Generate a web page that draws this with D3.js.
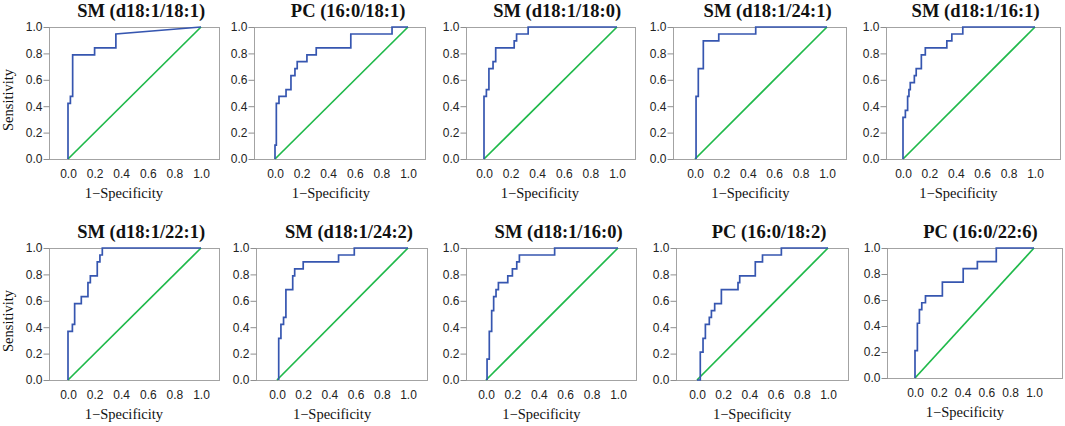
<!DOCTYPE html>
<html>
<head>
<meta charset="utf-8">
<script src="https://cdn.jsdelivr.net/npm/d3@7/dist/d3.min.js"></script>
<style>
  body { margin: 0; background: #fff; }
  svg { display: block; }
  .tick text { font-family: "Liberation Sans", Arial, sans-serif; font-size: 12px; fill: #222; }
  .title { font-family: "Liberation Serif", "Times New Roman", serif; font-weight: bold; font-size: 18.5px; fill: #111; text-anchor: middle; }
  .axis-label { font-family: "Liberation Serif", "Times New Roman", serif; font-size: 14.5px; fill: #111; text-anchor: middle; }
</style>
</head>
<body>
<svg id="chart" width="1065" height="426"></svg>
<script>
// DATA: panel titles, tick values and ROC points [1-specificity, sensitivity]
const titles = [
  "SM (d18:1/18:1)", "PC (16:0/18:1)", "SM (d18:1/18:0)", "SM (d18:1/24:1)", "SM (d18:1/16:1)",
  "SM (d18:1/22:1)", "SM (d18:1/24:2)", "SM (d18:1/16:0)", "PC (16:0/18:2)", "PC (16:0/22:6)"
];
const xTicks = [0, 0.2, 0.4, 0.6, 0.8, 1.0];
const yTicks = [0, 0.2, 0.4, 0.6, 0.8, 1.0];
const diagonal = [[0, 0], [1, 1]];

const rocSM18_1_18_1 = [[0,0],[0,0.421],[0.018,0.421],[0.018,0.474],[0.035,0.474],[0.035,0.789],
  [0.2,0.789],[0.2,0.842],[0.36,0.842],[0.36,0.947],[1,1]];
const rocPC16_0_18_1 = [[0,0],[0,0.105],[0.01,0.105],[0.01,0.421],[0.03,0.421],[0.03,0.474],
  [0.083,0.474],[0.083,0.526],[0.12,0.526],[0.12,0.632],[0.15,0.632],[0.15,0.684],[0.167,0.684],
  [0.167,0.737],[0.24,0.737],[0.24,0.789],[0.31,0.789],[0.31,0.842],[0.57,0.842],[0.57,0.947],
  [0.88,0.947],[0.88,1],[1,1]];
const rocSM18_1_18_0 = [[0,0],[0,0.474],[0.018,0.474],[0.018,0.526],[0.037,0.526],[0.037,0.684],
  [0.068,0.684],[0.068,0.737],[0.088,0.737],[0.088,0.842],[0.227,0.842],[0.227,0.895],
  [0.245,0.895],[0.245,0.947],[0.332,0.947],[0.332,1],[1,1]];
const rocSM18_1_24_1 = [[0.008,0],[0.008,0.474],[0.025,0.474],[0.025,0.684],[0.063,0.684],
  [0.063,0.895],[0.18,0.895],[0.18,0.947],[0.46,0.947],[0.46,1],[1,1]];
const rocSM18_1_16_1 = [[0,0],[0,0.316],[0.018,0.316],[0.018,0.368],[0.035,0.368],[0.035,0.474],
  [0.045,0.474],[0.045,0.526],[0.055,0.526],[0.055,0.579],[0.086,0.579],[0.086,0.632],
  [0.1,0.632],[0.1,0.684],[0.139,0.684],[0.139,0.789],[0.169,0.789],[0.169,0.842],[0.332,0.842],
  [0.332,0.895],[0.37,0.895],[0.37,0.947],[0.453,0.947],[0.453,1],[1,1]];
const rocSM18_1_22_1 = [[0,0],[0,0.368],[0.033,0.368],[0.033,0.421],[0.05,0.421],[0.05,0.579],
  [0.1,0.579],[0.1,0.632],[0.15,0.632],[0.15,0.737],[0.168,0.737],[0.168,0.789],[0.22,0.789],
  [0.22,0.895],[0.24,0.895],[0.24,0.947],[0.258,0.947],[0.258,1],[1,1]];
const rocSM18_1_24_2 = [[0.013,0],[0.013,0.316],[0.03,0.316],[0.03,0.421],[0.05,0.421],[0.05,0.474],
  [0.068,0.474],[0.068,0.684],[0.12,0.684],[0.12,0.789],[0.135,0.789],[0.135,0.842],[0.2,0.842],
  [0.2,0.895],[0.47,0.895],[0.47,0.947],[0.59,0.947],[0.59,1],[1,1]];
const rocSM18_1_16_0 = [[0.008,0],[0.008,0.158],[0.025,0.158],[0.025,0.368],[0.043,0.368],
  [0.043,0.526],[0.058,0.526],[0.058,0.632],[0.076,0.632],[0.076,0.684],[0.094,0.684],
  [0.094,0.737],[0.165,0.737],[0.165,0.789],[0.2,0.789],[0.2,0.842],[0.233,0.842],[0.233,0.895],
  [0.253,0.895],[0.253,0.947],[0.52,0.947],[0.52,1],[1,1]];
const rocPC16_0_18_2 = [[0,0],[0.025,0],[0.025,0.211],[0.046,0.211],[0.046,0.316],[0.064,0.316],
  [0.064,0.421],[0.094,0.421],[0.094,0.474],[0.11,0.474],[0.11,0.526],[0.135,0.526],[0.135,0.579],
  [0.186,0.579],[0.186,0.684],[0.313,0.684],[0.313,0.737],[0.326,0.737],[0.326,0.789],
  [0.445,0.789],[0.445,0.895],[0.5,0.895],[0.5,0.947],[0.644,0.947],[0.644,1],[1,1]];
const rocPC16_0_22_6 = [[0,0],[0,0.211],[0.02,0.211],[0.02,0.421],[0.037,0.421],[0.037,0.526],
  [0.057,0.526],[0.057,0.579],[0.088,0.579],[0.088,0.632],[0.23,0.632],[0.23,0.737],[0.405,0.737],
  [0.405,0.842],[0.524,0.842],[0.524,0.895],[0.683,0.895],[0.683,1],[1,1]];

const rocCurves = [rocSM18_1_18_1, rocPC16_0_18_1, rocSM18_1_18_0, rocSM18_1_24_1, rocSM18_1_16_1,
  rocSM18_1_22_1, rocSM18_1_24_2, rocSM18_1_16_0, rocPC16_0_18_2, rocPC16_0_22_6];

// LAYOUT: pixel frame of each panel, and where x = 0 and x = 1 fall
const panels = [
  { left: 49,  right: 219,  top: 27,  bottom: 159, x0: 68,  x1: 201 },
  { left: 254, right: 425,  top: 27,  bottom: 159, x0: 275, x1: 408 },
  { left: 466, right: 635,  top: 27,  bottom: 159, x0: 484, x1: 617 },
  { left: 673, right: 846,  top: 27,  bottom: 159, x0: 695, x1: 827 },
  { left: 886, right: 1060, top: 27,  bottom: 159, x0: 903, x1: 1035 },
  { left: 49,  right: 219,  top: 248, bottom: 380, x0: 68,  x1: 201 },
  { left: 256, right: 427,  top: 248, bottom: 380, x0: 277, x1: 408 },
  { left: 466, right: 636,  top: 248, bottom: 380, x0: 486, x1: 618 },
  { left: 676, right: 848,  top: 248, bottom: 380, x0: 697, x1: 828 },
  { left: 887, right: 1062, top: 248, bottom: 378, x0: 915, x1: 1034 }
];

const svg = d3.select("#chart");
const fmt = d3.format(".1f");

panels.forEach((p, i) => {
  const x = d3.scaleLinear().domain([0, 1]).range([p.x0, p.x1]);
  const y = d3.scaleLinear().domain([0, 1]).range([p.bottom, p.top]);
  const g = svg.append("g");

  // frame
  g.append("rect")
    .attr("x", p.left + 0.5)
    .attr("y", p.top + 0.5)
    .attr("width", p.right - p.left)
    .attr("height", p.bottom - p.top)
    .attr("fill", "#fff")
    .attr("stroke", "#a3a3a3")
    .attr("stroke-width", 1);

  // y axis
  const yAxis = g.append("g")
    .attr("transform", `translate(${p.left + 0.5},0)`)
    .call(d3.axisLeft(y).tickValues(yTicks).tickFormat(fmt).tickSize(6).tickPadding(1));
  yAxis.select(".domain").remove();
  yAxis.selectAll(".tick line").attr("stroke", "#8f8f8f");

  // x axis
  const xAxis = g.append("g")
    .attr("transform", `translate(0,${p.bottom})`)
    .call(d3.axisBottom(x).tickValues(xTicks).tickFormat(fmt).tickSize(0).tickPadding(10.5));
  xAxis.select(".domain").remove();

  const line = d3.line().x(d => x(d[0])).y(d => y(d[1]));

  // reference diagonal
  g.append("path")
    .datum(diagonal)
    .attr("fill", "none")
    .attr("stroke", "#1fb94a")
    .attr("stroke-width", 1.7)
    .attr("d", line);

  // ROC curve
  g.append("path")
    .datum(rocCurves[i])
    .attr("fill", "none")
    .attr("stroke", "#3656b0")
    .attr("stroke-width", 1.7)
    .attr("d", line);

  // title
  g.append("text")
    .attr("class", "title")
    .attr("x", x(0.55))
    .attr("y", p.top - 10.5)
    .text(titles[i]);

  // x label
  g.append("text")
    .attr("class", "axis-label")
    .attr("x", x(0.42))
    .attr("y", p.bottom + 38.5)
    .text("1\u2212Specificity");

  // y label on the first panel of each row
  if (i % 5 === 0) {
    g.append("text")
      .attr("class", "axis-label")
      .attr("transform", "rotate(-90)")
      .attr("x", -((p.top + p.bottom) / 2 + 7))
      .attr("y", 12.5)
      .text("Sensitivity");
  }
});
</script>
</body>
</html>
